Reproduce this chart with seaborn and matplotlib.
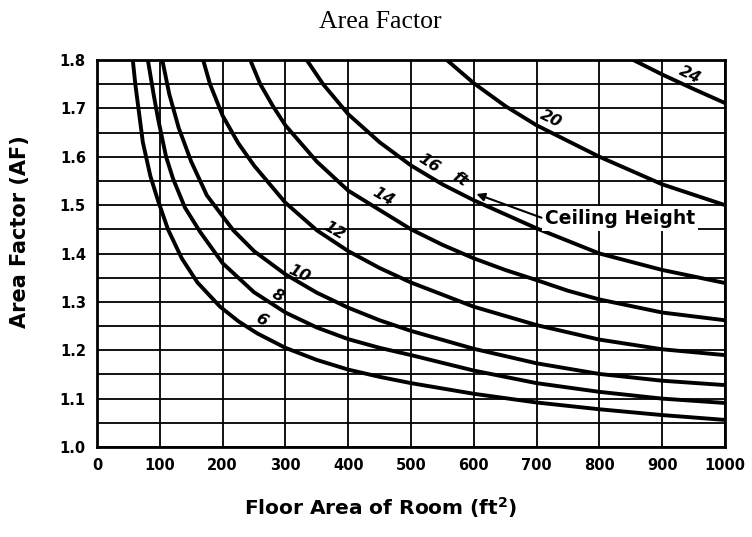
import numpy as np
import pandas as pd
import matplotlib
matplotlib.use("Agg")
import matplotlib.pyplot as plt
import seaborn as sns
from matplotlib.ticker import MultipleLocator, FormatStrFormatter

# ==========================================
# Data (floor area ft^2 -> area factor)
# ==========================================
H6_AREA = [57, 61, 65, 73, 85, 97, 113, 135, 160, 196, 225, 255, 300, 350, 400, 450, 500, 600, 700, 800, 900, 1000]
H6_AF = [1.80, 1.75, 1.71, 1.63, 1.56, 1.51, 1.45, 1.39, 1.34, 1.29, 1.26, 1.235, 1.205, 1.18, 1.16, 1.145, 1.132, 1.11, 1.092, 1.078, 1.066, 1.056]

H8_AREA = [81, 90, 97, 110, 121, 140, 164, 200, 250, 300, 350, 400, 450, 500, 600, 700, 800, 900, 1000]
H8_AF = [1.80, 1.73, 1.68, 1.60, 1.555, 1.495, 1.445, 1.38, 1.32, 1.278, 1.247, 1.223, 1.205, 1.19, 1.158, 1.132, 1.114, 1.10, 1.091]

H10_AREA = [104, 115, 130, 150, 175, 217, 250, 300, 350, 400, 450, 500, 600, 700, 800, 900, 1000]
H10_AF = [1.80, 1.73, 1.66, 1.59, 1.52, 1.448, 1.405, 1.357, 1.319, 1.288, 1.262, 1.24, 1.203, 1.173, 1.151, 1.137, 1.128]

H12_AREA = [169, 180, 200, 225, 250, 300, 350, 400, 450, 500, 600, 700, 800, 900, 1000]
H12_AF = [1.80, 1.75, 1.685, 1.628, 1.582, 1.505, 1.448, 1.405, 1.37, 1.34, 1.29, 1.252, 1.222, 1.202, 1.19]

H14_AREA = [244, 260, 280, 300, 350, 400, 450, 500, 550, 600, 650, 700, 750, 800, 900, 1000]
H14_AF = [1.80, 1.75, 1.705, 1.665, 1.59, 1.53, 1.49, 1.45, 1.418, 1.39, 1.366, 1.345, 1.323, 1.305, 1.278, 1.262]

H16_AREA = [334, 360, 400, 450, 500, 550, 600, 700, 800, 900, 1000]
H16_AF = [1.80, 1.75, 1.688, 1.63, 1.582, 1.543, 1.51, 1.452, 1.40, 1.366, 1.339]

H20_AREA = [557, 600, 650, 700, 800, 900, 1000]
H20_AF = [1.80, 1.752, 1.705, 1.665, 1.60, 1.543, 1.50]

H24_AREA = [854, 900, 950, 1000]
H24_AF = [1.80, 1.77, 1.74, 1.711]

CURVES = {6: (H6_AREA, H6_AF), 8: (H8_AREA, H8_AF), 10: (H10_AREA, H10_AF),
          12: (H12_AREA, H12_AF), 14: (H14_AREA, H14_AF), 16: (H16_AREA, H16_AF),
          20: (H20_AREA, H20_AF), 24: (H24_AREA, H24_AF)}

X_TICKS = list(range(0, 1001, 100))
Y_TICKS = [1.0, 1.1, 1.2, 1.3, 1.4, 1.5, 1.6, 1.7, 1.8]

rows = []
for h, (areas, afs) in CURVES.items():
    for a, f in zip(areas, afs):
        rows.append({"height": h, "area": a, "af": f})
df = pd.DataFrame(rows)

# ==========================================
# Plot
# ==========================================
sns.set_theme(style="white")
plt.rcParams['font.family'] = ['DejaVu Sans']
plt.rcParams['text.color'] = 'black'
plt.rcParams['xtick.color'] = 'black'
plt.rcParams['ytick.color'] = 'black'

fig = plt.figure(figsize=(7.52, 5.37), dpi=100)
ax = fig.add_axes([97 / 752, 90 / 537, 628 / 752, 387 / 537])

sns.lineplot(data=df, x="area", y="af", units="height", estimator=None, sort=False,
             color="black", linewidth=2.8, ax=ax, zorder=3)

ax.set_xlim(0, 1000)
ax.set_ylim(1.0, 1.8)
ax.set_xticks(X_TICKS)
ax.set_yticks(Y_TICKS)
ax.yaxis.set_minor_locator(MultipleLocator(0.05))
ax.yaxis.set_major_formatter(FormatStrFormatter('%.1f'))
ax.grid(which="both", color="black", linewidth=1.3)
ax.tick_params(which="both", length=0, labelsize=10.5, pad=8, colors="black")
for lbl in ax.get_xticklabels() + ax.get_yticklabels():
    lbl.set_fontweight("bold")
for sp in ax.spines.values():
    sp.set_color("black")
    sp.set_linewidth(2)
ax.set_xlabel("")
ax.set_ylabel("")

# curve labels (ceiling height)
for txt, x, y, rot in [("6", 262, 1.262, -30), ("8", 287, 1.312, -28), ("10", 322, 1.359, -25),
                       ("12", 377, 1.447, -30), ("14", 455, 1.518, -30), ("16", 529, 1.587, -33),
                       ("ft", 578, 1.554, -33), ("20", 722, 1.678, -26), ("24", 944, 1.77, -26)]:
    ax.text(x, y, txt, rotation=rot, ha="center", va="center", fontsize=11.5,
            fontweight="bold", fontstyle="italic", color="black", zorder=4)

ax.text(713, 1.472, "Ceiling Height", ha="left", va="center", fontsize=13.5, fontweight="bold",
        color="black", zorder=5, bbox=dict(facecolor="white", edgecolor="none", pad=2))
ax.annotate("", xy=(600, 1.525), xytext=(712, 1.472), zorder=5,
            arrowprops=dict(arrowstyle="-|>", color="black", lw=1.5, mutation_scale=12))

fig.text(380 / 752, 1 - 22 / 537, "Area Factor", ha="center", va="center",
         fontsize=18.5, color="black", family=["Liberation Serif", "DejaVu Serif"])
fig.text(381 / 752, 1 - 508 / 537, "Floor Area of Room (ft$^\\mathbf{2}$)", ha="center",
         va="center", fontsize=14.5, fontweight="bold", color="black")
fig.text(20 / 752, 1 - 232 / 537, "Area Factor (AF)", ha="center", va="center", rotation=90,
         fontsize=15, fontweight="bold", color="black")

fig.savefig("out.png", dpi=100)
